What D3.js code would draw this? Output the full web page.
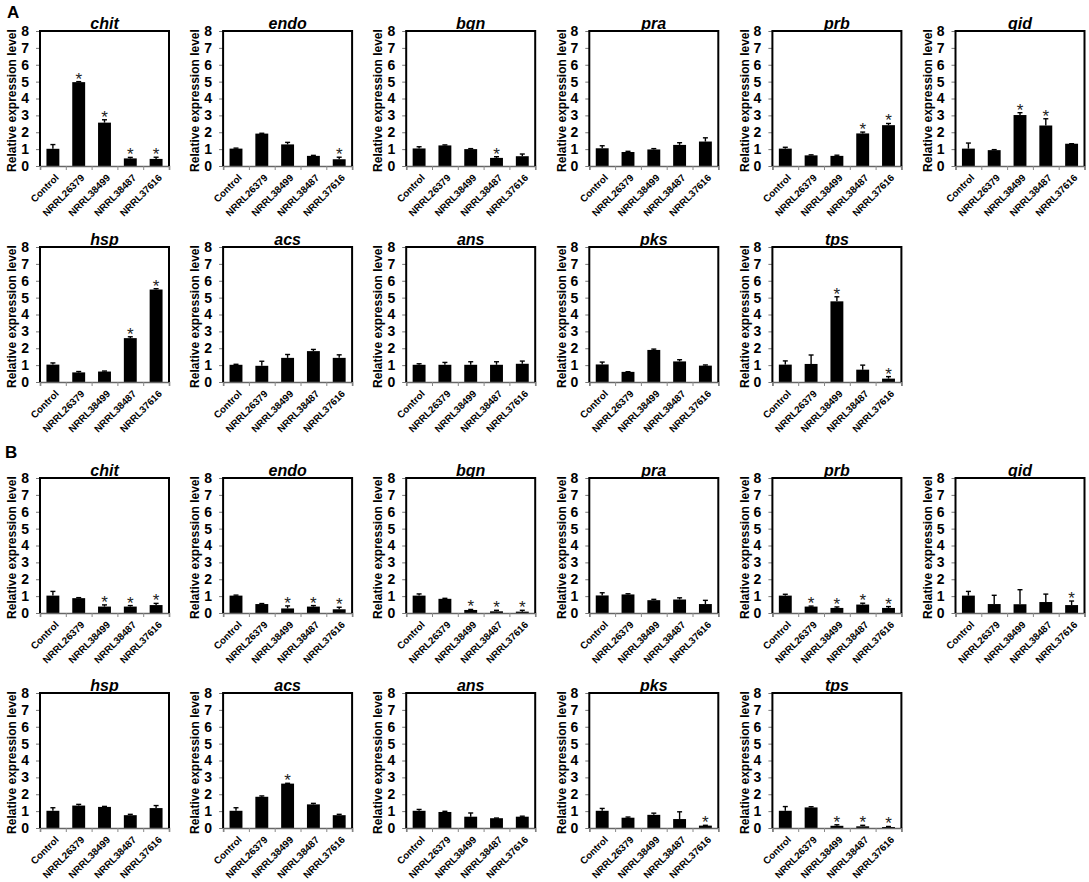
<!DOCTYPE html>
<html>
<head>
<meta charset="utf-8">
<script src="https://cdn.jsdelivr.net/npm/d3@7"></script>
<style>
  body { margin: 0; background: #fff; }
  svg { display: block; font-family: "Liberation Sans", Arial, sans-serif; }
</style>
</head>
<body>
<svg id="chart" width="1089" height="882"></svg>
<script>
var strains = ["Control", "NRRL26379", "NRRL38499", "NRRL38487", "NRRL37616"];
var genesRow1 = ["chit", "endo", "bgn", "pra", "prb", "qid"];
var genesRow2 = ["hsp", "acs", "ans", "pks", "tps"];
var yTicks = [0, 1, 2, 3, 4, 5, 6, 7, 8];
var yLabel = "Relative expression level";

// section A, genes in order chit endo bgn pra prb qid hsp acs ans pks tps
var meanA = [
    [1.02, 4.97, 2.57, 0.45, 0.42],
    [1.03, 1.92, 1.28, 0.60, 0.40],
    [1.04, 1.22, 1.00, 0.48, 0.58],
    [1.05, 0.83, 0.98, 1.25, 1.45],
    [1.03, 0.63, 0.60, 1.93, 2.42],
    [1.03, 0.94, 3.02, 2.40, 1.32],
    [1.03, 0.57, 0.62, 2.60, 5.48],
    [1.02, 0.96, 1.43, 1.83, 1.43],
    [1.02, 1.02, 1.02, 1.02, 1.08],
    [1.04, 0.60, 1.90, 1.22, 0.97],
    [1.03, 1.07, 4.78, 0.73, 0.20]
];
var errA = [
    [0.25, 0.03, 0.17, 0.06, 0.10],
    [0.03, 0.02, 0.12, 0.03, 0.12],
    [0.10, 0.03, 0.03, 0.07, 0.13],
    [0.15, 0.04, 0.05, 0.13, 0.22],
    [0.08, 0.03, 0.04, 0.08, 0.10],
    [0.33, 0.03, 0.14, 0.40, 0.00],
    [0.10, 0.05, 0.03, 0.08, 0.05],
    [0.03, 0.27, 0.20, 0.10, 0.18],
    [0.06, 0.14, 0.18, 0.18, 0.16],
    [0.14, 0.01, 0.05, 0.10, 0.04],
    [0.22, 0.53, 0.27, 0.27, 0.12]
];
var sigA = [
    [0, 1, 1, 1, 1],
    [0, 0, 0, 0, 1],
    [0, 0, 0, 1, 0],
    [0, 0, 0, 0, 0],
    [0, 0, 0, 1, 1],
    [0, 0, 1, 1, 0],
    [0, 0, 0, 1, 1],
    [0, 0, 0, 0, 0],
    [0, 0, 0, 0, 0],
    [0, 0, 0, 0, 0],
    [0, 0, 1, 0, 1]
];

// section B, same gene order
var meanB = [
    [1.03, 0.88, 0.38, 0.38, 0.47],
    [1.03, 0.53, 0.27, 0.38, 0.22],
    [1.03, 0.84, 0.18, 0.10, 0.08],
    [1.04, 1.10, 0.76, 0.80, 0.53],
    [1.03, 0.38, 0.30, 0.50, 0.30],
    [1.03, 0.53, 0.52, 0.65, 0.47],
    [1.02, 1.33, 1.25, 0.76, 1.18],
    [1.02, 1.85, 2.63, 1.40, 0.76],
    [1.02, 0.95, 0.67, 0.58, 0.67],
    [1.02, 0.61, 0.78, 0.53, 0.14],
    [1.02, 1.22, 0.13, 0.10, 0.06]
];
var errB = [
    [0.25, 0.03, 0.10, 0.06, 0.10],
    [0.03, 0.03, 0.15, 0.06, 0.12],
    [0.10, 0.03, 0.03, 0.06, 0.08],
    [0.16, 0.04, 0.05, 0.10, 0.22],
    [0.08, 0.03, 0.06, 0.08, 0.08],
    [0.25, 0.52, 0.86, 0.47, 0.24],
    [0.18, 0.07, 0.03, 0.05, 0.15],
    [0.18, 0.05, 0.02, 0.06, 0.05],
    [0.08, 0.04, 0.22, 0.01, 0.03],
    [0.14, 0.04, 0.10, 0.43, 0.02],
    [0.25, 0.04, 0.06, 0.06, 0.03]
];
var sigB = [
    [0, 0, 1, 1, 1],
    [0, 0, 1, 1, 1],
    [0, 0, 1, 1, 1],
    [0, 0, 0, 0, 0],
    [0, 1, 1, 1, 1],
    [0, 0, 0, 0, 1],
    [0, 0, 0, 0, 0],
    [0, 0, 1, 0, 0],
    [0, 0, 0, 0, 0],
    [0, 0, 0, 0, 1],
    [0, 0, 1, 1, 1]
];

var pw = 129, ph = 135;
var colStep = 183.1, firstLeft = 40;
var sections = [
    { label: "A", labelX: 7, labelY: 18, tops: [31, 247], mean: meanA, err: errA, sig: sigA },
    { label: "B", labelX: 5, labelY: 458, tops: [478, 693], mean: meanB, err: errB, sig: sigB }
];

var svg = d3.select("#chart");
svg.append("rect").attr("width", 1089).attr("height", 882).attr("fill", "#fff");

function drawPanel(g, gene, means, errs, sigs) {
    var x = d3.scaleBand().domain(strains).range([0, pw]).paddingInner(0.5).paddingOuter(0.25);
    var y = d3.scaleLinear().domain([0, 8]).range([ph, 0]);
    var edges = d3.scaleLinear().domain([0, strains.length]).range([0, pw]);

    var rows = strains.map(function(s, i) {
        return { name: s, mean: means[i], err: errs[i], sig: sigs[i] };
    });

    // bars
    g.selectAll("rect.bar")
        .data(rows)
        .enter().append("rect")
        .attr("class", "bar")
        .attr("x", function(d) { return x(d.name); })
        .attr("width", x.bandwidth())
        .attr("y", function(d) { return y(d.mean); })
        .attr("height", function(d) { return ph - y(d.mean); })
        .attr("fill", "#000");

    // upper error bars
    var eb = g.selectAll("g.err")
        .data(rows)
        .enter().append("g")
        .attr("class", "err")
        .attr("transform", function(d) { return "translate(" + (x(d.name) + x.bandwidth() / 2) + ")"; });
    eb.append("line")
        .attr("y1", function(d) { return y(d.mean); })
        .attr("y2", function(d) { return y(d.mean + d.err); })
        .attr("stroke", "#000").attr("stroke-width", 1.4);
    eb.append("line")
        .attr("x1", -2.5).attr("x2", 2.5)
        .attr("y1", function(d) { return y(d.mean + d.err); })
        .attr("y2", function(d) { return y(d.mean + d.err); })
        .attr("stroke", "#000").attr("stroke-width", 1.4);

    // significance marks
    g.selectAll("text.sig")
        .data(rows.filter(function(d) { return d.sig; }))
        .enter().append("text")
        .attr("class", "sig")
        .attr("x", function(d) { return x(d.name) + x.bandwidth() / 2; })
        .attr("y", function(d) { return y(d.mean + d.err) + 3; })
        .attr("text-anchor", "middle")
        .attr("font-size", 17)
        .attr("fill", "#222")
        .text("*");

    // y axis
    var yAxis = g.append("g")
        .call(d3.axisLeft(y).tickValues(yTicks).tickSize(4).tickPadding(7));
    yAxis.select(".domain").remove();
    yAxis.selectAll(".tick line").attr("stroke", "#777");
    yAxis.selectAll(".tick text")
        .attr("font-size", 14).attr("font-weight", "bold").attr("fill", "#000")
        .attr("font-family", "Liberation Sans, Arial, sans-serif");

    // bottom axis with ticks between categories
    var xEdge = g.append("g")
        .attr("transform", "translate(0," + ph + ")")
        .call(d3.axisBottom(edges).tickValues(d3.range(strains.length + 1)).tickSize(4).tickFormat(""));
    xEdge.select(".domain").attr("stroke", "#666").attr("stroke-width", 1.5);
    xEdge.selectAll(".tick line").attr("stroke", "#888");

    // rotated category labels
    var xLab = g.append("g")
        .attr("transform", "translate(0," + ph + ")")
        .call(d3.axisBottom(x).tickSize(0).tickPadding(0));
    xLab.select(".domain").remove();
    xLab.selectAll(".tick text")
        .attr("x", 0).attr("y", 0).attr("dy", "0.35em")
        .attr("transform", "translate(4,10) rotate(-45)")
        .attr("text-anchor", "end")
        .attr("font-size", 9.8).attr("font-weight", "bold").attr("fill", "#000")
        .attr("font-family", "Liberation Sans, Arial, sans-serif");

    // frame: left, top, right in black
    g.append("path")
        .attr("d", "M0," + ph + "V0H" + pw + "V" + ph)
        .attr("fill", "none").attr("stroke", "#000").attr("stroke-width", 2);

    g.append("text")
        .attr("x", pw / 2).attr("y", -2)
        .attr("text-anchor", "middle")
        .attr("font-size", 16).attr("font-weight", "bold").attr("font-style", "italic")
        .text(gene);

    g.append("text")
        .attr("transform", "translate(-28," + (ph / 2 + 2) + ") rotate(-90)")
        .attr("text-anchor", "middle")
        .attr("dy", "0.35em")
        .attr("font-size", 12).attr("font-weight", "bold")
        .text(yLabel);
}

sections.forEach(function(sec) {
    svg.append("text")
        .attr("x", sec.labelX).attr("y", sec.labelY)
        .attr("font-size", 17).attr("font-weight", "bold")
        .text(sec.label);

    [genesRow1, genesRow2].forEach(function(genes, r) {
        genes.forEach(function(gene, c) {
            var idx = r * genesRow1.length + c;
            var g = svg.append("g")
                .attr("transform", "translate(" + (firstLeft + c * colStep) + "," + sec.tops[r] + ")");
            drawPanel(g, gene, sec.mean[idx], sec.err[idx], sec.sig[idx]);
        });
    });
});
</script>
</body>
</html>
